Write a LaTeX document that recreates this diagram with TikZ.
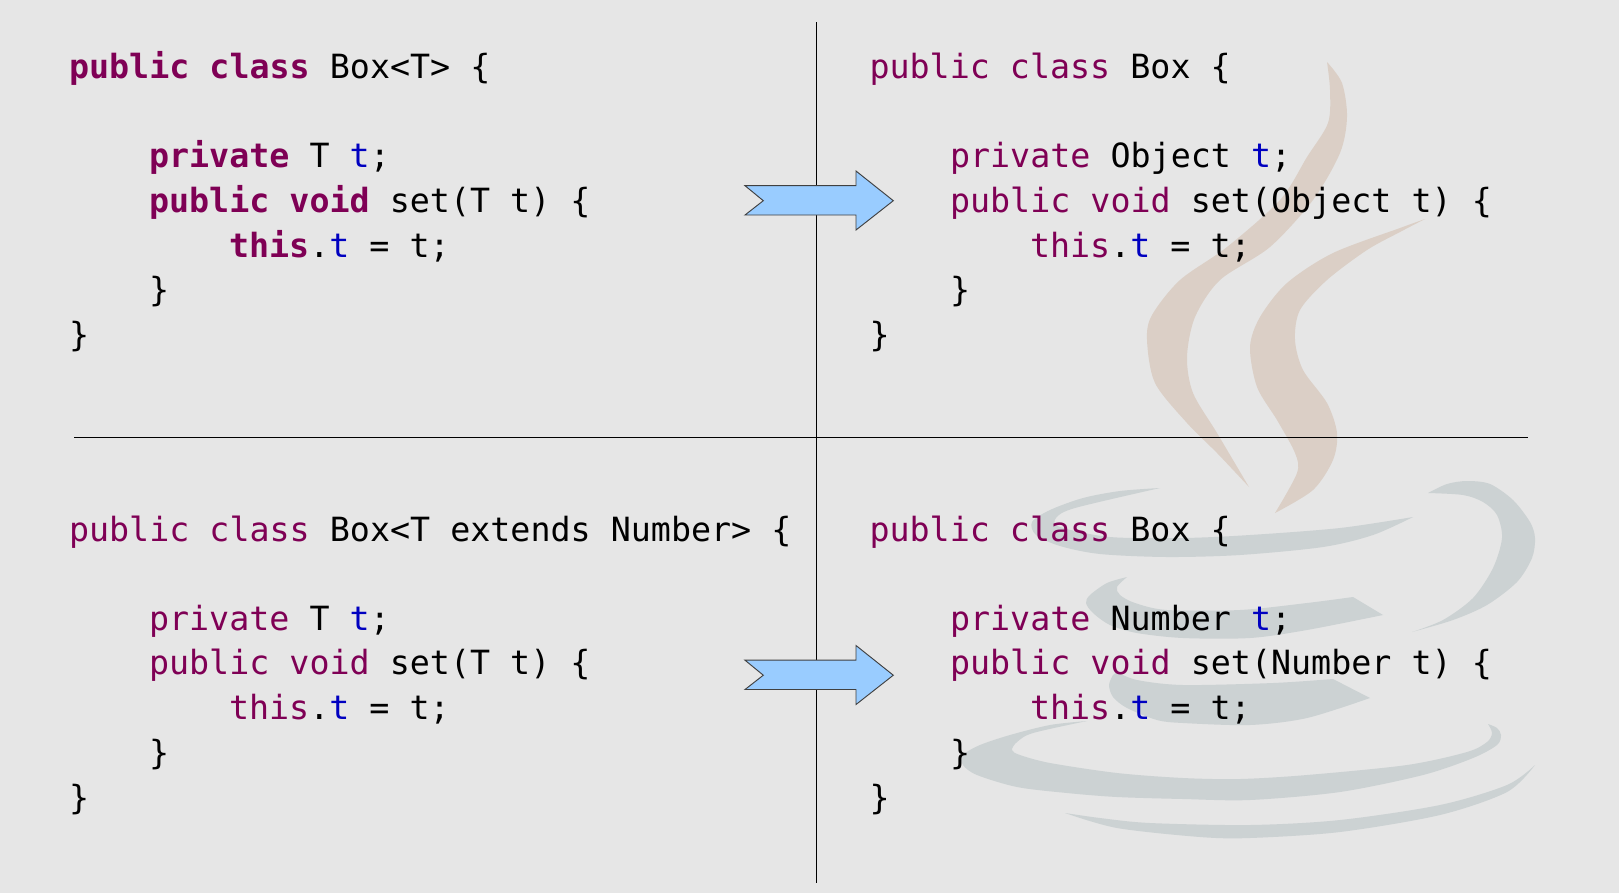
\documentclass[tikz,border=0pt]{standalone}
\usepackage{fontspec}
\setmainfont{DejaVu Sans Mono}
\definecolor{bgc}{HTML}{E6E6E6}
\definecolor{kwc}{HTML}{7F0055}
\definecolor{fldc}{HTML}{0000C0}
\definecolor{steamc}{HTML}{DBCFC6}
\definecolor{cupc}{HTML}{CCD2D3}
\definecolor{arrowc}{HTML}{99CCFF}
\newcommand{\kw}[1]{\textcolor{kwc}{#1}}
\newcommand{\kb}[1]{\textcolor{kwc}{\bfseries #1}}
\newcommand{\fl}[1]{\textcolor{fldc}{#1}}
\tikzset{
  code/.style={anchor=base west,inner sep=0pt,outer sep=0pt,font=\fontsize{25}{30}\selectfont,text=black},
  rule/.style={draw=black,line width=0.9pt},
  bigarrow/.style={fill=arrowc,draw=black!75,line width=0.7pt,line join=miter},
  steam/.style={fill=steamc,draw=none},
  cup/.style={fill=cupc,draw=none}
}
\begin{document}
\begin{tikzpicture}[x=0.75pt,y=-0.75pt]
\path[use as bounding box,fill=bgc] (0,0) rectangle (1619,893);
% steam
\fill[steam] plot[smooth] coordinates {(1327,62) (1330,90) (1328,123) (1307,157) (1280,200) (1227,247) (1180,280) (1152,315) (1147,340) (1155,383) (1187,423) (1217,453) (1249,487)}
  -- plot[smooth] coordinates {(1249,487) (1217,433) (1193,393) (1187,357) (1195,317) (1220,280) (1270,247) (1313,200) (1340,153) (1347,117) (1342,83) (1327,62)} -- cycle;
\fill[steam] plot[smooth] coordinates {(1425,219) (1400,228) (1333,253) (1287,283) (1260,317) (1250,347) (1257,387) (1277,420) (1295,453) (1297,473) (1275,513)}
  -- plot[smooth] coordinates {(1275,513) (1313,490) (1333,460) (1337,433) (1327,403) (1303,370) (1295,340) (1300,310) (1327,280) (1367,250) (1400,232) (1425,219)} -- cycle;
% cup
\fill[cup] plot[smooth] coordinates {(1160,488) (1120,491) (1083,498) (1050,510) (1032,522) (1036,535) (1060,546) (1100,554) (1167,557) (1240,555) (1323,547) (1373,535) (1413,517)}
  -- plot[smooth] coordinates {(1413,517) (1340,528) (1250,535) (1183,538) (1110,537) (1060,527) (1056,518) (1075,508) (1160,488)} -- cycle;
\fill[cup] plot[smooth] coordinates {(1127,577) (1107,583) (1090,595) (1086,603) (1093,613) (1110,625) (1137,633) (1183,638) (1250,638) (1307,630) (1383,615)}
  -- (1353,597) -- plot[smooth] coordinates {(1353,597) (1307,603) (1240,610) (1167,610) (1135,603) (1120,595) (1117,587) (1127,577)} -- cycle;
\fill[cup] plot[smooth] coordinates {(1113,675) (1109,685) (1113,697) (1127,708) (1157,720) (1183,723) (1250,725) (1307,718) (1370,698)}
  -- (1333,679) -- plot[smooth] coordinates {(1333,679) (1273,683) (1183,685) (1137,680) (1117,672)} -- cycle;
\fill[cup] plot[smooth] coordinates {(1087,721) (1050,725) (1010,735) (980,745) (963,755) (963,765) (977,775) (1017,787) (1067,793) (1117,797) (1183,799) (1250,800) (1340,792) (1423,775) (1473,758) (1497,745) (1501,735) (1497,728) (1488,724)}
  -- plot[smooth] coordinates {(1488,724) (1492,733) (1487,742) (1467,752) (1407,765) (1307,775) (1240,779) (1183,778) (1117,773) (1050,763) (1020,755) (1012,750) (1017,742) (1033,733) (1087,721)} -- cycle;
\fill[cup] plot[smooth] coordinates {(1065,813) (1117,828) (1200,837) (1250,838) (1340,832) (1440,815) (1507,792) (1535,765)}
  -- plot[smooth] coordinates {(1535,765) (1507,785) (1440,805) (1340,820) (1250,825) (1150,823) (1100,818) (1065,813)} -- cycle;
\fill[cup] plot[smooth] coordinates {(1428,493) (1447,484) (1467,481) (1490,484) (1513,500) (1530,522) (1535,538) (1532,558) (1517,582) (1487,605) (1453,620) (1412,632)}
  -- plot[smooth] coordinates {(1412,632) (1443,620) (1473,598) (1493,568) (1502,538) (1497,515) (1483,502) (1463,495) (1428,493)} -- cycle;
% rules
\coordinate (vtop) at (816.5,22);
\coordinate (vbot) at (816.5,883);
\coordinate (hleft) at (74,437.5);
\coordinate (hright) at (1528,437.5);
\draw[rule] (vtop) -- (vbot);
\draw[rule] (hleft) -- (hright);
% arrows
\draw[bigarrow] (745,185.7) -- (763.3,200.7) -- (745,215) -- (856,215) -- (856,230) -- (893.3,200.7) -- (856,171) -- (856,185.7) -- cycle;
\draw[bigarrow] (745,660.2) -- (763.3,675.2) -- (745,689.5) -- (856,689.5) -- (856,704.5) -- (893.3,675.2) -- (856,645.5) -- (856,660.2) -- cycle;
% top left
\node[code] (a1) at (69,78.4) {\kb{public class} Box<T> \{};
\node[code] (a2) at (149,167.4) {\kb{private} T \fl{t};};
\node[code] (a3) at (149,212.2) {\kb{public void} set(T t) \{};
\node[code] (a4) at (229,257) {\kb{this}.\fl{t} = t;};
\node[code] (a5) at (149,301.6) {\}};
\node[code] (a6) at (69,346.5) {\}};
% top right
\node[code] (b1) at (869.5,78.4) {\kw{public class} Box \{};
\node[code] (b2) at (950,167.4) {\kw{private} Object \fl{t};};
\node[code] (b3) at (950,212.2) {\kw{public void} set(Object t) \{};
\node[code] (b4) at (1030,257) {\kw{this}.\fl{t} = t;};
\node[code] (b5) at (950,301.6) {\}};
\node[code] (b6) at (869.5,346.5) {\}};
% bottom left
\node[code] (c1) at (69,541) {\kw{public class} Box<T extends Number> \{};
\node[code] (c2) at (149,630.2) {\kw{private} T \fl{t};};
\node[code] (c3) at (149,674.9) {\kw{public void} set(T t) \{};
\node[code] (c4) at (229,719.6) {\kw{this}.\fl{t} = t;};
\node[code] (c5) at (149,764.3) {\}};
\node[code] (c6) at (69,809) {\}};
% bottom right
\node[code] (d1) at (869.5,541) {\kw{public class} Box \{};
\node[code] (d2) at (950,630.2) {\kw{private} Number \fl{t};};
\node[code] (d3) at (950,674.9) {\kw{public void} set(Number t) \{};
\node[code] (d4) at (1030,719.6) {\kw{this}.\fl{t} = t;};
\node[code] (d5) at (950,764.3) {\}};
\node[code] (d6) at (869.5,809) {\}};
\end{tikzpicture}
\end{document}
